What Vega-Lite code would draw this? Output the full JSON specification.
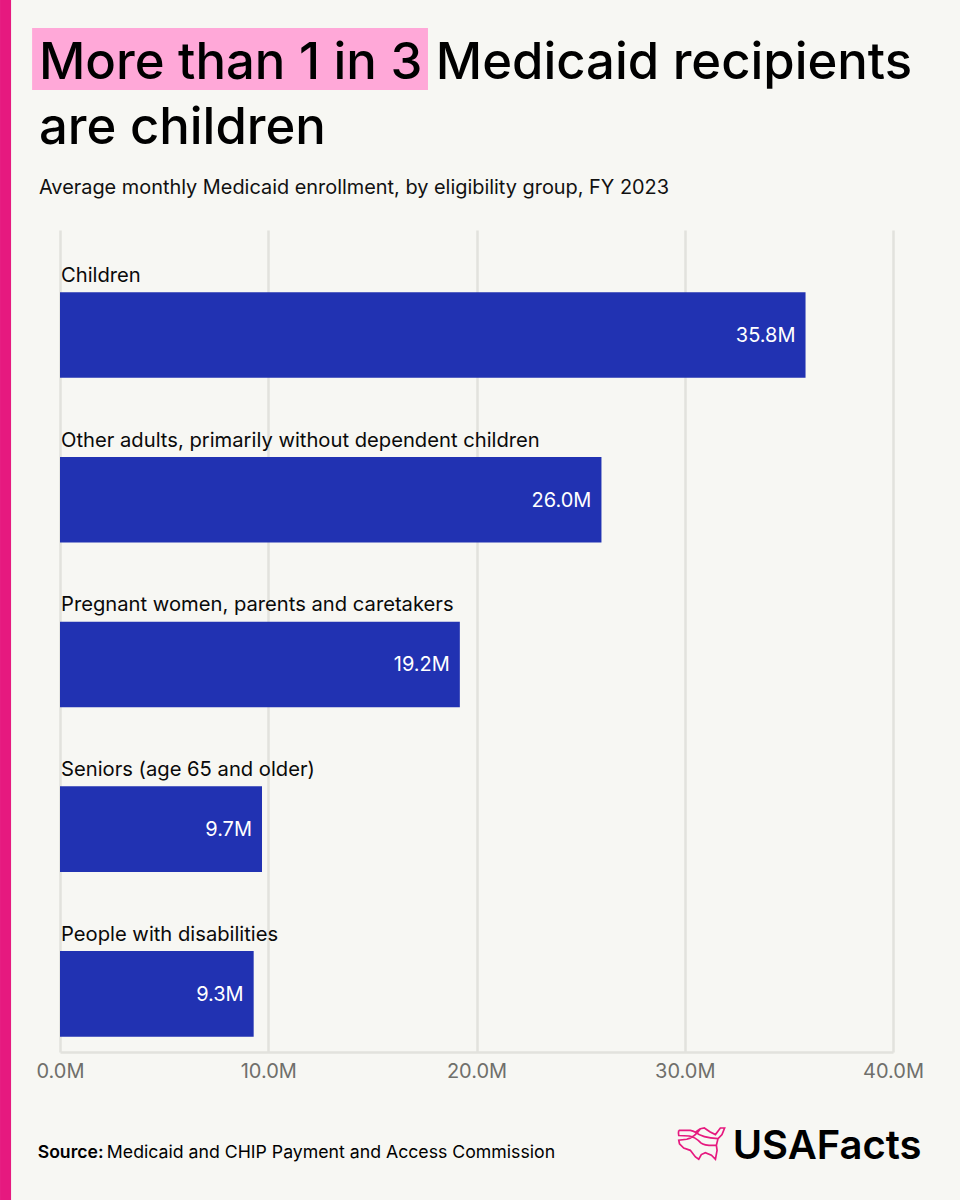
{
"$schema":"https://vega.github.io/schema/vega-lite/v6.json",
"width":833,"height":822,"autosize":"none",
"padding":{"left":60,"top":230,"right":67,"bottom":148},
"background":"#f7f7f3",
"title":{"text":["More than 1 in 3 Medicaid recipients","are children"],"subtitle":"Average monthly Medicaid enrollment, by eligibility group, FY 2023","anchor":"start","frame":"group","dx":-21,"offset":-199,"font":"Inter","fontSize":50.8,"fontWeight":500,"lineHeight":65,"color":"#000000","subtitleFont":"Inter","subtitleFontSize":19.9,"subtitleFontWeight":400,"subtitleColor":"#111111","subtitlePadding":23},
"config":{"view":{"stroke":null},"font":"Inter"},
"datasets":{"rows":[
{"group":"Children","enrollment":35.8,"label":"35.8M"},
{"group":"Other adults, primarily without dependent children","enrollment":26.0,"label":"26.0M"},
{"group":"Pregnant women, parents and caretakers","enrollment":19.2,"label":"19.2M"},
{"group":"Seniors (age 65 and older)","enrollment":9.7,"label":"9.7M"},
{"group":"People with disabilities","enrollment":9.3,"label":"9.3M"}]},
"data":{"name":"rows"},
"resolve":{"scale":{"y":"independent"}},
"layer":[
{"mark":{"type":"bar","color":"#1d2eb0","opacity":0.98},
"encoding":{
"y":{"field":"group","type":"nominal","sort":null,"axis":null,"scale":{"type":"band","paddingInner":0.48,"paddingOuter":0.235,"align":0.803}},
"x":{"field":"enrollment","type":"quantitative","scale":{"domain":[0,40],"nice":false},"axis":{"title":null,"values":[0,10,20,30,40],"labelExpr":"format(datum.value,'.1f')+'M'","labelFont":"Inter","labelFontSize":20,"labelColor":"#6f6f6b","labelPadding":9,"labelFlush":false,"ticks":false,"grid":true,"gridColor":"#e2e2dd","gridWidth":2.5,"domainColor":"#e2e2dd","domainWidth":2.5}}}},
{"mark":{"type":"text","align":"left","baseline":"middle","dx":1,"dy":-59,"font":"Inter","fontSize":20.2,"color":"#0a0a0a"},
"encoding":{
"y":{"field":"group","type":"nominal","sort":null,"axis":null,"scale":{"type":"band","paddingInner":0.48,"paddingOuter":0.235,"align":0.803}},
"x":{"datum":0,"type":"quantitative"},
"text":{"field":"group"}}},
{"mark":{"type":"text","align":"right","baseline":"middle","dx":-10,"dy":1,"font":"Inter","fontSize":20,"color":"#ffffff"},
"encoding":{
"y":{"field":"group","type":"nominal","sort":null,"axis":null,"scale":{"type":"band","paddingInner":0.48,"paddingOuter":0.235,"align":0.803}},
"x":{"field":"enrollment","type":"quantitative"},
"text":{"field":"label"}}},
{"data":{"values":[{"note":"stripe"}]},"mark":{"type":"rect","color":"#e6197f","clip":false},
"encoding":{"x":{"datum":-2.88,"type":"quantitative"},"x2":{"datum":-2.35},
"y":{"datum":1.28,"type":"quantitative","axis":null,"scale":{"domain":[0,1],"nice":false}},"y2":{"datum":-0.18}}},
{"data":{"values":[{"note":"highlight"}]},"mark":{"type":"rect","color":"#ffa8d8","clip":false},
"encoding":{"x":{"datum":-1.34,"type":"quantitative"},"x2":{"datum":17.67},
"y":{"datum":1.2457,"type":"quantitative","axis":null,"scale":{"domain":[0,1],"nice":false}},"y2":{"datum":1.1703}}},
{"data":{"values":[{"t":"Source:"}]},"mark":{"type":"text","align":"left","baseline":"middle","font":"Inter","fontSize":17.6,"fontWeight":600,"color":"#000000"},
"encoding":{"x":{"datum":-1.07,"type":"quantitative"},"y":{"datum":-0.1229,"type":"quantitative","axis":null,"scale":{"domain":[0,1],"nice":false}},"text":{"field":"t"}}},
{"data":{"values":[{"t":"Medicaid and CHIP Payment and Access Commission"}]},"mark":{"type":"text","align":"left","baseline":"middle","font":"Inter","fontSize":17.7,"color":"#000000"},
"encoding":{"x":{"datum":2.25,"type":"quantitative"},"y":{"datum":-0.1229,"type":"quantitative","axis":null,"scale":{"domain":[0,1],"nice":false}},"text":{"field":"t"}}},
{"data":{"values":[{"t":"USAFacts"}]},"mark":{"type":"text","align":"left","baseline":"middle","font":"Inter","fontSize":40,"fontWeight":600,"color":"#000000"},
"encoding":{"x":{"datum":32.3,"type":"quantitative"},"y":{"datum":-0.1155,"type":"quantitative","axis":null,"scale":{"domain":[0,1],"nice":false}},"text":{"field":"t"}}},
{"data":{"values":[{"note":"logo"}]},"mark":{"type":"point","filled":false,"stroke":"#e6197f","strokeWidth":1.7,"size":2209,"opacity":1,"clip":false,"shape":"M -.99 -.58 L -.5 -.58 Q -.38 -.56 -.28 -.5 Q -.18 -.58 -.07 -.65 L .1 -.68 Q .22 -.6 .35 -.51 L .57 -.4 L .78 -.68 L .96 -.68 L .85 -.4 L .68 -.23 L .61 .06 L .64 .27 L .57 .65 L .4 .48 L .14 .37 L -.03 .45 L -.14 .65 L -.28 .55 L -.5 .27 L -.78 .17 L -.96 -.01 L -.99 -.16 L -.65 -.2 Q -.3 -.3 -.07 -.65 M -.99 -.58 Q -1.02 -.45 -.99 -.36 L -.55 -.34 Q -.3 -.3 -.05 -.05 Q .1 .08 .61 .06 M -.28 -.5 Q 0 -.25 .68 -.23"},
"encoding":{"x":{"datum":30.83,"type":"quantitative"},"y":{"datum":-0.1119,"type":"quantitative","axis":null,"scale":{"domain":[0,1],"nice":false}}}}
]
}
